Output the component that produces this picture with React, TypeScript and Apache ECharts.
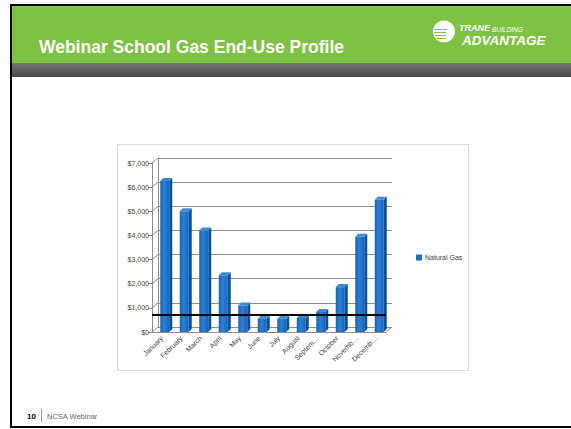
import React, { useEffect, useRef } from 'react';
import * as echarts from 'echarts';

const months = ['January', 'February', 'March', 'April', 'May', 'June', 'July', 'August', 'September', 'October', 'November', 'December'];
const truncatedMonths = ['September', 'November', 'December'];
const gasCost = [6250, 5000, 4200, 2350, 1100, 550, 550, 580, 830, 1860, 3950, 5480];
const yTicks = [0, 1000, 2000, 3000, 4000, 5000, 6000, 7000];
const baselineValue = 700;
const seriesName = 'Natural Gas';
const titleText = 'Webinar School Gas End-Use Profile';
const footerPage = '10';
const footerText = 'NCSA Webinar';

const FONT = '"Liberation Sans", Arial, sans-serif';
const GREEN = '#7dc242';
const GRID_GRAY = '#8c8c8c';

export default function App() {
  const ref = useRef<HTMLDivElement>(null);
  useEffect(() => {
    if (!ref.current) return;
    const chart = echarts.init(ref.current, null, { renderer: 'svg' });
    const frontGrid = { left: 152, top: 163, width: 234, height: 169 };
    const backGrid = { left: 158, top: 158, width: 234, height: 169 };
    const option: any = {
      animation: false,
      backgroundColor: '#ffffff',
      grid: [
        { ...frontGrid, containLabel: false },
        { ...backGrid, containLabel: false },
      ],
      legend: {
        data: [{ name: seriesName, icon: 'rect' }],
        left: 416,
        top: 254,
        itemWidth: 6,
        itemHeight: 6,
        padding: 0,
        textStyle: { fontSize: 7, color: '#404040', fontFamily: FONT, padding: [0, 0, 0, -2] },
      },
      xAxis: [
        {
          type: 'category',
          gridIndex: 0,
          data: months,
          axisLine: { show: true, lineStyle: { color: GRID_GRAY, width: 1 } },
          axisTick: { show: false },
          axisLabel: {
            rotate: 45,
            fontSize: 7,
            color: '#404040',
            fontFamily: FONT,
            margin: 5,
            interval: 0,
            formatter: (v: string) => (truncatedMonths.includes(v) ? v.slice(0, 6) + '…' : v),
          },
          splitLine: { show: false },
        },
        {
          type: 'category',
          gridIndex: 1,
          data: months,
          show: false,
        },
      ],
      yAxis: [
        {
          type: 'value',
          gridIndex: 0,
          min: 0,
          max: 7000,
          interval: 1000,
          axisLine: { show: true, lineStyle: { color: GRID_GRAY, width: 1 } },
          axisTick: { show: true, length: 4, lineStyle: { color: GRID_GRAY } },
          axisLabel: {
            fontSize: 7,
            color: '#404040',
            fontFamily: FONT,
            margin: 3,
            formatter: (v: number) => '$' + v.toLocaleString('en-US'),
          },
          splitLine: { show: false },
        },
        {
          type: 'value',
          gridIndex: 1,
          min: 0,
          max: 7000,
          interval: 1000,
          axisLine: { show: true, lineStyle: { color: GRID_GRAY, width: 1 } },
          axisTick: { show: false },
          axisLabel: { show: false },
          splitLine: { show: true, lineStyle: { color: GRID_GRAY, width: 1 } },
        },
      ],
      series: [
        {
          type: 'custom',
          name: 'walls',
          xAxisIndex: 0,
          yAxisIndex: 0,
          silent: true,
          z: 1,
          data: yTicks.map((v) => [0, v]),
          encode: { x: 0, y: 1 },
          renderItem: (params: any, api: any) => {
            const v = api.value(1);
            const p = api.coord([0, v]);
            const cs = params.coordSys;
            const children: any[] = [
              {
                type: 'line',
                shape: { x1: cs.x, y1: p[1], x2: cs.x + 6, y2: p[1] - 5 },
                style: { stroke: GRID_GRAY, lineWidth: 1 },
              },
            ];
            if (v === 0) {
              children.push({
                type: 'line',
                shape: { x1: cs.x + cs.width, y1: p[1], x2: cs.x + cs.width + 6, y2: p[1] - 5 },
                style: { stroke: GRID_GRAY, lineWidth: 1 },
              });
            }
            return { type: 'group', children };
          },
        },
        {
          type: 'custom',
          name: seriesName,
          xAxisIndex: 0,
          yAxisIndex: 0,
          z: 3,
          itemStyle: { color: '#1a6fc4' },
          data: gasCost.map((v, i) => [i, v]),
          encode: { x: 0, y: 1 },
          renderItem: (params: any, api: any) => {
            const i = api.value(0);
            const v = api.value(1);
            const top = api.coord([i, v]);
            const base = api.coord([i, 0]);
            const cx = top[0] + 3;
            const w = 9;
            const d = 3;
            const x0 = cx - w / 2;
            const x1 = cx + w / 2;
            return {
              type: 'group',
              children: [
                {
                  type: 'polygon',
                  shape: { points: [[x1, base[1]], [x1, top[1]], [x1 + d, top[1] - d], [x1 + d, base[1] - d]] },
                  style: { fill: '#0b4f94' },
                },
                {
                  type: 'rect',
                  shape: { x: x0, y: top[1], width: w, height: base[1] - top[1] },
                  style: {
                    fill: new echarts.graphic.LinearGradient(0, 0, 1, 0, [
                      { offset: 0, color: '#1566ba' },
                      { offset: 0.45, color: '#2a7fd6' },
                      { offset: 1, color: '#1464b6' },
                    ]),
                  },
                },
                {
                  type: 'polygon',
                  shape: { points: [[x0, top[1]], [x1, top[1]], [x1 + d, top[1] - d], [x0 + d, top[1] - d]] },
                  style: { fill: '#3d8ad6' },
                },
              ],
            };
          },
          markLine: {
            silent: true,
            symbol: ['none', 'none'],
            label: { show: false },
            lineStyle: { color: '#000000', width: 2, type: 'solid' },
            data: [{ yAxis: baselineValue }],
            z: 10,
          },
        },
      ],
      graphic: [
        // slide frame
        { type: 'rect', shape: { x: 10, y: 4, width: 561, height: 2 }, style: { fill: '#000' } },
        { type: 'rect', shape: { x: 10, y: 4, width: 2, height: 424 }, style: { fill: '#000' } },
        { type: 'rect', shape: { x: 10, y: 426, width: 561, height: 2 }, style: { fill: '#000' } },
        // header
        { type: 'rect', shape: { x: 12, y: 6, width: 559, height: 57 }, style: { fill: GREEN } },
        {
          type: 'rect',
          shape: { x: 12, y: 63, width: 559, height: 14 },
          style: {
            fill: new echarts.graphic.LinearGradient(0, 0, 0, 1, [
              { offset: 0, color: '#747474' },
              { offset: 1, color: '#4a4a4a' },
            ]),
          },
        },
        {
          type: 'text',
          style: {
            x: 39,
            y: 47,
            text: titleText,
            font: 'bold 17.5px ' + FONT,
            fill: '#ffffff',
            verticalAlign: 'middle',
          },
        },
        // logo
        { type: 'circle', shape: { cx: 444, cy: 31.5, r: 11 }, style: { fill: '#ffffff' } },
        { type: 'rect', shape: { x: 434, y: 29, width: 13, height: 1 }, style: { fill: GREEN } },
        { type: 'rect', shape: { x: 434, y: 32, width: 12, height: 1 }, style: { fill: GREEN } },
        { type: 'rect', shape: { x: 435, y: 35, width: 11, height: 1 }, style: { fill: GREEN } },
        { type: 'rect', shape: { x: 437, y: 38, width: 9, height: 1 }, style: { fill: GREEN } },
        {
          type: 'text',
          style: { x: 459, y: 28, text: 'TRANE', font: 'italic bold 9px ' + FONT, fill: '#ffffff', verticalAlign: 'middle' },
        },
        {
          type: 'text',
          style: { x: 492, y: 29, text: 'BUILDING', font: 'italic 6.5px ' + FONT, fill: '#ffffff', verticalAlign: 'middle' },
        },
        {
          type: 'text',
          style: { x: 462, y: 40, text: 'ADVANTAGE', font: 'italic bold 13.5px ' + FONT, fill: '#ffffff', verticalAlign: 'middle' },
        },
        // chart frame
        {
          type: 'rect',
          shape: { x: 117.5, y: 144.5, width: 351, height: 226 },
          style: { fill: 'none', stroke: '#d9d9d9', lineWidth: 1 },
          z: -1,
        },
        // footer
        {
          type: 'text',
          style: { x: 27, y: 416, text: footerPage, font: 'bold 8px ' + FONT, fill: '#000000', verticalAlign: 'middle' },
        },
        { type: 'rect', shape: { x: 41, y: 409, width: 1, height: 13 }, style: { fill: '#9a9a9a' } },
        {
          type: 'text',
          style: { x: 47, y: 416, text: footerText, font: '7.5px ' + FONT, fill: '#666666', verticalAlign: 'middle' },
        },
      ],
    };
    chart.setOption(option);
    return () => chart.dispose();
  }, []);
  return <div ref={ref} style={{ position: 'absolute', left: 0, top: 0, width: 571, height: 429 }} />;
}
